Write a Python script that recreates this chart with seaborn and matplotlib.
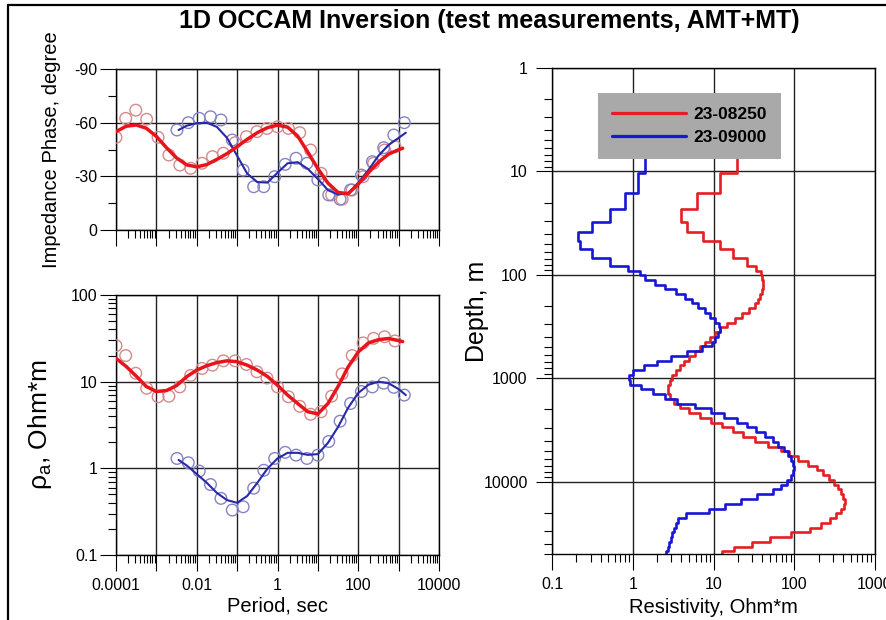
import matplotlib
matplotlib.use("Agg")
import matplotlib.pyplot as plt
import seaborn as sns
import numpy as np
import pandas as pd
from matplotlib.ticker import FixedLocator, FixedFormatter, LogLocator, NullFormatter
from matplotlib.lines import Line2D

sns.set_style("ticks")
plt.rcParams["font.family"] = ["Liberation Sans", "DejaVu Sans"]
plt.rcParams["mathtext.default"] = "regular"
plt.rcParams["text.color"] = "black"
plt.rcParams["axes.labelcolor"] = "black"
plt.rcParams["xtick.color"] = "black"
plt.rcParams["ytick.color"] = "black"

# ---- station 23-08250 (red) : measured data
red_period = [1.00e-4, 1.74e-4, 3.09e-4, 5.75e-4, 1.10e-3, 2.04e-3, 3.80e-3, 7.08e-3, 1.35e-2,
              2.45e-2, 4.57e-2, 8.91e-2, 0.170, 0.309, 0.550, 1.0, 1.86, 3.55, 6.61, 12.0,
              21.9, 39.8, 70.8, 132, 240, 447, 813]
red_phase = [-51.8, -62.4, -67, -61.9, -51.8, -41.9, -36.3, -34.5, -37.3, -41, -42.9, -48.8,
             -52.2, -55, -56.8, -57.7, -56.8, -54.4, -44.7, -31.7, -19.6, -17.2, -22.4, -29.8,
             -37.3, -44.7, -46.6]
red_rho = [26, 20, 12.5, 8.4, 6.7, 6.8, 8.7, 11.8, 14.2, 15.5, 17.4, 17.4, 15.8, 13, 11, 8.7,
           6.7, 5.2, 4.2, 4.5, 6.8, 12.3, 20, 28, 31.6, 33, 29.5]

# ---- station 23-09000 (blue) : measured data
blue_period = [3.24e-3, 6.17e-3, 1.15e-2, 2.19e-2, 3.98e-2, 7.59e-2, 0.141, 0.257, 0.457, 0.851,
               1.55, 2.88, 5.37, 10.0, 18.6, 35.5, 64.6, 120, 224, 427, 759, 1380]
blue_phase = [-55.9, -60, -62.4, -63.3, -61.5, -50.3, -33.5, -24.2, -24.2, -29.8, -36.7, -40.1,
              -37.3, -28, -19.6, -17.2, -22.4, -30.7, -38.2, -46, -53.1, -60]
blue_rho = [1.30, 1.16, 0.93, 0.65, 0.45, 0.33, 0.36, 0.59, 0.95, 1.30, 1.53, 1.42, 1.30, 1.42,
            2.04, 3.5, 5.6, 7.7, 8.7, 9.6, 8.6, 7.0]

# ---- model responses (fitted curves)
red_fit_period = [1e-4, 1.78e-4, 3.16e-4, 5.62e-4, 1e-3, 1.78e-3, 3.16e-3, 5.62e-3, 0.01, 0.0178,
                  0.0316, 0.0562, 0.1, 0.178, 0.316, 0.562, 1, 1.78, 3.16, 5.62, 10, 17.8, 31.6,
                  56.2, 100, 178, 316, 562, 1000, 1260]
red_fit_phase = [-55.0, -58.0, -58.7, -56.9, -52.3, -46.0, -40.3, -36.4, -35.3, -36.6, -39.5,
                 -42.7, -46.6, -50.7, -54.4, -57.2, -58.6, -57.5, -52.5, -43.6, -34.3, -26.2,
                 -21.0, -20.3, -25.6, -32.0, -37.9, -42.4, -44.9, -45.7]
red_fit_rho = [18.6, 15.0, 11.6, 8.8, 7.7, 7.9, 9.0, 11.4, 13.6, 15.3, 16.6, 17.4, 17.0, 15.5,
               13.6, 11.5, 9.1, 7.0, 5.6, 4.5, 4.25, 5.6, 8.8, 14.8, 22.0, 28.0, 30.5, 31.5,
               29.8, 29.0]
blue_fit_period = [3.55e-3, 5.62e-3, 0.01, 0.0178, 0.0316, 0.0562, 0.1, 0.178, 0.316, 0.562, 1,
                   1.78, 3.16, 5.62, 10, 17.8, 31.6, 56.2, 100, 178, 316, 562, 1000, 1510]
blue_fit_phase = [-55.9, -58.3, -59.7, -60.0, -57.6, -51.5, -41.5, -31.5, -26.8, -26.5, -32.0,
                  -37.3, -37.9, -34.2, -28.5, -22.3, -19.8, -20.5, -26.5, -33.5, -41.5, -47.5,
                  -51.5, -54.4]
blue_fit_rho = [1.25, 1.08, 0.86, 0.68, 0.52, 0.43, 0.40, 0.48, 0.68, 0.99, 1.30, 1.51, 1.51,
                1.43, 1.46, 1.97, 3.0, 5.0, 7.4, 9.2, 10.0, 9.6, 8.2, 7.0]

# ---- 1D Occam models: layer boundaries (m) and layer resistivities (Ohm*m)
layer_depth = [3, 10.3, 16.2, 23.2, 30.5, 38.2, 47.5, 56.5, 69, 81.8, 91.5,
               100, 111, 124, 138, 153, 170, 189, 210, 234, 260, 289, 322, 358, 398, 442, 492,
               547, 608, 676, 752, 836, 930, 1034, 1150, 1278, 1422, 1581, 1758, 1955, 2174,
               2418, 2689, 2990, 3325, 3697, 4111, 4572, 5084, 5653, 6287, 6991, 7774, 8645,
               9614, 10690, 11890, 13220, 14700, 16350, 18180, 20220, 22480, 25000, 27800,
               30920, 34380, 38230, 42520, 47280, 52580]
red_model = [19.4, 12, 6.2, 4.0, 4.65, 7.5, 12, 17.6, 25.7, 34, 39,
             40, 41, 41, 40, 38, 36, 33, 27.5, 22.4, 18.2, 14.8, 12, 10.5, 9.1, 7.9, 6.9, 5.9,
             5.0, 4.3, 3.8, 3.4, 3.1, 2.9, 2.75, 2.75, 2.9, 3.2, 3.9, 5.0, 6.8, 9.3, 12.6, 17.4,
             23.4, 33, 47, 68, 87, 112, 148, 190, 229, 269, 309, 347, 380, 407, 427, 417, 380,
             331, 275, 214, 155, 91, 50, 30, 17.8, 12.6]
blue_model = [1.42, 1.15, 0.80, 0.52, 0.31, 0.21, 0.22, 0.31, 0.52, 0.88, 1.23,
              1.4, 1.9, 2.5, 3.4, 4.4, 5.4, 6.5, 7.9, 9.1, 10.5, 11.7, 12, 11.5, 10.5, 9.5, 7.2,
              4.7, 2.95, 2.0, 1.38, 1.0, 0.89, 0.93, 1.26, 1.78, 2.5, 3.5, 5.9, 9.3, 13.5, 19.5,
              26, 34, 44, 54, 63, 74, 83, 91, 97, 98, 97, 91, 81, 68, 54, 35, 22, 14, 8.9, 4.6,
              3.6, 3.4, 3.2, 3.1, 2.95, 2.8, 2.7, 2.6]

station_names = ["23-08250", "23-09000"]
period_ticks = [1e-4, 1e-3, 1e-2, 1e-1, 1, 10, 100, 1000, 1e4]
period_labels = ["0.0001", "", "0.01", "", "1", "", "100", "", "10000"]

RED, BLUE = "#e8141c", "#2828a8"
RED_PT, BLUE_PT = "#d48a8a", "#8484c4"
RED_M, BLUE_M = "#e31e24", "#1616d4"


def staircase(bounds, values):
    xs, ys = [], []
    for i, v in enumerate(values):
        xs += [v, v]
        ys += [bounds[i], bounds[i + 1]]
    return xs, ys


W, H = 886, 620
fig = plt.figure(figsize=(W / 100, H / 100), dpi=100)


def px_axes(l, t, r, b):
    return fig.add_axes([l / W, (H - b) / H, (r - l) / W, (b - t) / H])


ax_ph = px_axes(116, 69, 439, 230)
ax_rho = px_axes(116, 295, 439, 555)
ax_mod = px_axes(552, 68, 875, 554)


def style_axis(ax):
    for s in ax.spines.values():
        s.set_visible(True)
        s.set_color("black")
        s.set_linewidth(1.0)
    ax.grid(True, which="major", color="#222222", lw=1.0)
    ax.set_axisbelow(True)
    ax.tick_params(which="both", bottom=True, left=True, top=False, right=False)
    ax.tick_params(which="major", direction="out", length=11.5, width=0.8, color="black",
                   labelsize=11.5, pad=2)
    ax.tick_params(which="minor", direction="out", length=6, width=0.8, color="black")


# ---------- phase panel
sns.scatterplot(x=red_period, y=red_phase, ax=ax_ph, marker="o", s=70, facecolor="none",
                edgecolor=RED_PT, linewidth=1.0, zorder=3)
sns.scatterplot(x=blue_period, y=blue_phase, ax=ax_ph, marker="o", s=70, facecolor="none",
                edgecolor=BLUE_PT, linewidth=1.0, zorder=3)
sns.lineplot(x=blue_fit_period, y=blue_fit_phase, ax=ax_ph, color=BLUE, lw=1.5, zorder=4)
sns.lineplot(x=red_fit_period, y=red_fit_phase, ax=ax_ph, color=RED, lw=2.5, zorder=5)
ax_ph.set_xscale("log")
ax_ph.set_xlim(1e-4, 1e4)
ax_ph.set_ylim(0, -90)
ax_ph.xaxis.set_major_locator(FixedLocator(period_ticks))
ax_ph.xaxis.set_major_formatter(NullFormatter())
ax_ph.xaxis.set_minor_locator(LogLocator(base=10, subs=np.arange(2, 10), numticks=20))
ax_ph.xaxis.set_minor_formatter(NullFormatter())
ax_ph.yaxis.set_major_locator(FixedLocator([0, -30, -60, -90]))
ax_ph.yaxis.set_major_formatter(FixedFormatter(["0", "-30", "-60", "-90"]))
ax_ph.yaxis.set_minor_locator(FixedLocator([-15, -45, -75]))
style_axis(ax_ph)
ax_ph.set_ylabel("Impedance Phase, degree", fontsize=14.5)
ax_ph.yaxis.label.set_va("center")
ax_ph.yaxis.set_label_coords(-0.2, 0.5)

# ---------- apparent resistivity panel
sns.scatterplot(x=red_period, y=red_rho, ax=ax_rho, marker="o", s=70, facecolor="none",
                edgecolor=RED_PT, linewidth=1.0, zorder=3)
sns.scatterplot(x=blue_period, y=blue_rho, ax=ax_rho, marker="o", s=70, facecolor="none",
                edgecolor=BLUE_PT, linewidth=1.0, zorder=3)
sns.lineplot(x=blue_fit_period, y=blue_fit_rho, ax=ax_rho, color=BLUE, lw=1.5, zorder=4)
sns.lineplot(x=red_fit_period, y=red_fit_rho, ax=ax_rho, color=RED, lw=2.5, zorder=5)
ax_rho.set_xscale("log")
ax_rho.set_yscale("log")
ax_rho.set_xlim(1e-4, 1e4)
ax_rho.set_ylim(0.1, 100)
ax_rho.xaxis.set_major_locator(FixedLocator(period_ticks))
ax_rho.xaxis.set_major_formatter(FixedFormatter(period_labels))
ax_rho.xaxis.set_minor_locator(LogLocator(base=10, subs=np.arange(2, 10), numticks=20))
ax_rho.xaxis.set_minor_formatter(NullFormatter())
ax_rho.yaxis.set_major_locator(FixedLocator([0.1, 1, 10, 100]))
ax_rho.yaxis.set_major_formatter(FixedFormatter(["0.1", "1", "10", "100"]))
ax_rho.yaxis.set_minor_locator(LogLocator(base=10, subs=np.arange(2, 10), numticks=20))
ax_rho.yaxis.set_minor_formatter(NullFormatter())
style_axis(ax_rho)
ax_rho.tick_params(axis="x", which="major", pad=5)
ax_rho.set_ylabel(r"ρ$_{a}$, Ohm*m", fontsize=19)
ax_rho.yaxis.label.set_va("center")
ax_rho.yaxis.set_label_coords(-0.235, 0.5)
ax_rho.set_xlabel("Period, sec", fontsize=14.5)
ax_rho.xaxis.label.set_va("center")
ax_rho.xaxis.set_label_coords(0.5, -0.195)

# ---------- 1D model panel
rx, ry = staircase(layer_depth, red_model)
bx, by = staircase(layer_depth, blue_model)
sns.lineplot(x=rx, y=ry, ax=ax_mod, sort=False, estimator=None, color=RED_M, lw=1.9,
             label=station_names[0])
sns.lineplot(x=bx, y=by, ax=ax_mod, sort=False, estimator=None, color=BLUE_M, lw=1.9,
             label=station_names[1])
ax_mod.set_xscale("log")
ax_mod.set_yscale("log")
ax_mod.set_xlim(0.1, 1000)
ax_mod.set_ylim(50000, 1)
ax_mod.xaxis.set_major_locator(FixedLocator([0.1, 1, 10, 100, 1000]))
ax_mod.xaxis.set_major_formatter(FixedFormatter(["0.1", "1", "10", "100", "1000"]))
ax_mod.xaxis.set_minor_locator(LogLocator(base=10, subs=np.arange(2, 10), numticks=20))
ax_mod.xaxis.set_minor_formatter(NullFormatter())
ax_mod.yaxis.set_major_locator(FixedLocator([1, 10, 100, 1000, 10000]))
ax_mod.yaxis.set_major_formatter(FixedFormatter(["1", "10", "100", "1000", "10000"]))
ax_mod.yaxis.set_minor_locator(LogLocator(base=10, subs=np.arange(2, 10), numticks=20))
ax_mod.yaxis.set_minor_formatter(NullFormatter())
style_axis(ax_mod)
ax_mod.tick_params(axis="x", which="major", pad=5)
ax_mod.tick_params(axis="y", which="major", pad=6)
ax_mod.set_ylabel("Depth, m", fontsize=18)
ax_mod.yaxis.label.set_va("center")
ax_mod.yaxis.set_label_coords(-0.232, 0.5)
ax_mod.set_xlabel("Resistivity, Ohm*m", fontsize=14.5)
ax_mod.xaxis.label.set_va("center")
ax_mod.xaxis.set_label_coords(0.5, -0.111)

leg = ax_mod.legend(loc="upper left", bbox_to_anchor=(0.142, 0.949), borderaxespad=0,
                    prop={"weight": "bold", "size": 12.5}, handlelength=4.3,
                    handletextpad=0.4, labelspacing=0.47, borderpad=0.8, fancybox=False,
                    framealpha=1)
leg.get_frame().set_facecolor("#a9a9a9")
leg.get_frame().set_edgecolor("none")
for h in leg.get_lines():
    h.set_linewidth(2.3)

fig.text(489 / W, 1 - 21 / H, "1D OCCAM Inversion (test measurements, AMT+MT)",
         ha="center", va="center", fontsize=18, fontweight="bold")

# page frame (top and left edge)
fig.add_artist(Line2D([8 / W, 8 / W], [0, 1 - 5 / H], color="black", lw=1.6,
                      transform=fig.transFigure))
fig.add_artist(Line2D([8 / W, 1], [1 - 5 / H, 1 - 5 / H], color="black", lw=1.6,
                      transform=fig.transFigure))

fig.savefig("out.png", dpi=100, facecolor="white")
